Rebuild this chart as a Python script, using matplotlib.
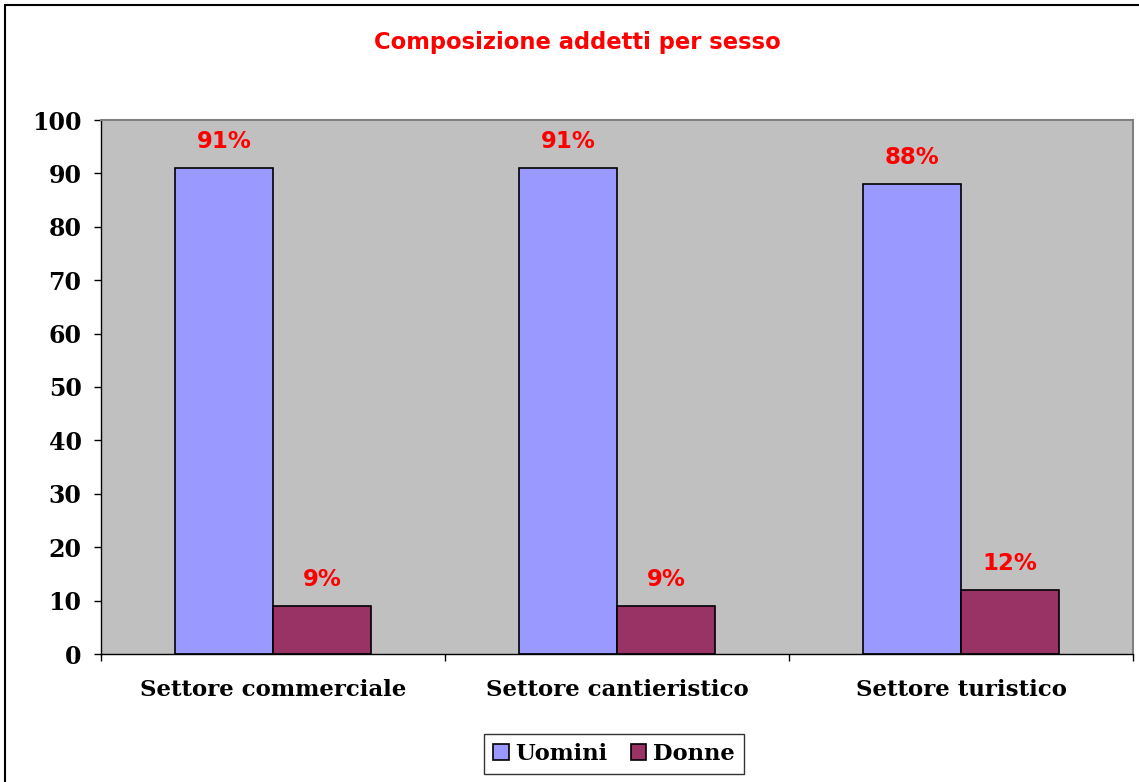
import numpy as np
import matplotlib.pyplot as plt
from matplotlib.patches import Rectangle

# data
categories = ["Settore commerciale", "Settore cantieristico", "Settore turistico"]
uomini = [91, 91, 88]
donne = [9, 9, 12]
uomini_lbl = ["91%", "91%", "88%"]
donne_lbl = ["9%", "9%", "12%"]
yticks = [0, 10, 20, 30, 40, 50, 60, 70, 80, 90, 100]

serif = ["DejaVu Serif"]
sans = ["DejaVu Sans"]

fig = plt.figure(figsize=(11.39, 7.82), dpi=100)
# outer frame, cut off on right and bottom like the original
fig.patches.append(Rectangle((5/1139, -0.05), 1.2, (777/782) + 0.05, transform=fig.transFigure,
                             fill=False, edgecolor="black", linewidth=1.5))

ax = fig.add_axes([101/1139, 128/782, 1032/1139, 534/782])
ax.set_facecolor("#C0C0C0")

x = np.arange(len(categories)) + 0.5
w = 1 / 3.5
b1 = ax.bar(x - w/2, uomini, w, color="#9999FF", edgecolor="black", linewidth=1.2, label="Uomini")
b2 = ax.bar(x + w/2, donne, w, color="#993366", edgecolor="black", linewidth=1.2, label="Donne")

for bars, lbls in ((b1, uomini_lbl), (b2, donne_lbl)):
    for r, t in zip(bars, lbls):
        ax.annotate(t, (r.get_x() + r.get_width()/2, r.get_height()), xytext=(0, 19),
                    textcoords="offset points", ha="center", va="center",
                    color="red", fontsize=16.5, fontweight="bold", family=sans)

ax.set_xlim(0, 3)
ax.set_ylim(0, 100)
ax.set_yticks(yticks)
ax.set_yticklabels([str(v) for v in yticks], fontsize=17, fontweight="bold", family=serif)
ax.set_xticks([0, 1, 2, 3])
ax.set_xticklabels([])
ax.set_xticks(x, minor=True)
ax.set_xticklabels(categories, minor=True, fontsize=16.5, fontweight="bold", family=serif)
ax.tick_params(axis="y", direction="out", length=5, width=1, pad=9)
ax.tick_params(axis="x", which="major", direction="out", length=5, width=1)
ax.tick_params(axis="x", which="minor", length=0, pad=18)

for s in ("top", "right"):
    ax.spines[s].set_color("#808080")
    ax.spines[s].set_linewidth(1.5)
for s in ("left", "bottom"):
    ax.spines[s].set_color("black")
    ax.spines[s].set_linewidth(1)

fig.text(577/1139, 1 - 43/782, "Composizione addetti per sesso", ha="center", va="center",
         color="red", fontsize=16.3, fontweight="bold", family=sans)

leg = fig.legend(loc="center", bbox_to_anchor=(614/1139, 28/782), ncol=2, frameon=True,
                 fancybox=False, edgecolor="black", handlelength=0.7, handleheight=0.7,
                 handletextpad=0.3, columnspacing=1.0, borderpad=0.4,
                 prop={"family": serif, "weight": "bold", "size": 16.3})
leg.get_frame().set_linewidth(1)

fig.savefig("out.png", dpi=100)
